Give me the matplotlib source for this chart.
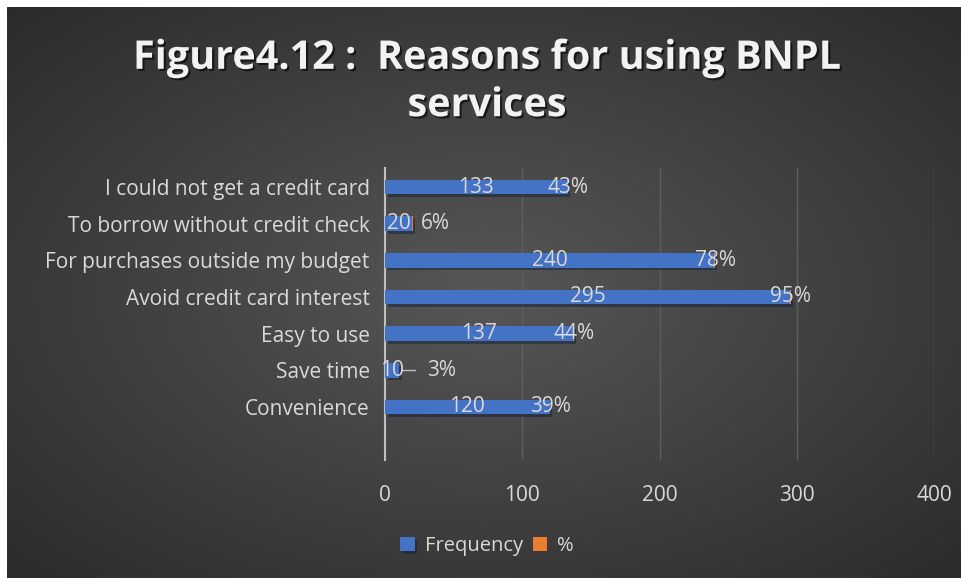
import matplotlib.pyplot as plt
import matplotlib.patheffects as pe
import numpy as np

categories = ["Convenience", "Save time", "Easy to use", "Avoid credit card interest",
              "For purchases outside my budget", "To borrow without credit check",
              "I could not get a credit card"]
freq = [120, 10, 137, 295, 240, 20, 133]
pct = [39, 3, 44, 95, 78, 6, 43]

W, H = 962, 578
fig = plt.figure(figsize=(W / 100, H / 100), dpi=100, facecolor="white")

# dark radial-gradient panel (white strip on left/top like the screenshot)
bg = fig.add_axes([7 / W, 0, 1 - 7 / W, 1 - 7 / H])
yy, xx = np.mgrid[-1:1:300j, -1:1:500j]
r = np.sqrt(xx ** 2 + yy ** 2) / np.sqrt(2)
grad = 0.34 - 0.17 * r
bg.imshow(np.dstack([grad] * 3), aspect="auto", extent=[0, 1, 0, 1])
bg.axis("off")

font = "Open Sans"
txt = "#d9d9d9"
fs = 15

ax = fig.add_axes([385 / W, 1 - 460 / H, (934 - 385) / W, (460 - 168) / H])
ax.patch.set_alpha(0)
y = np.arange(len(categories))
shadow = [pe.SimplePatchShadow(offset=(2, -2), alpha=0.5), pe.Normal()]
b1 = ax.barh(y, freq, height=0.4, color="#4472c4", label="Frequency",
             path_effects=shadow, zorder=3)
b2 = ax.barh(y, [p / 100 for p in pct], left=freq, height=0.4, color="#ed7d31",
             label="%", zorder=3)

for i in range(len(categories)):
    ax.text(freq[i] / 2, y[i], str(freq[i]), ha="center", va="center",
            color=txt, fontsize=fs, family=font, zorder=5)
    if freq[i] < 50:
        lx = freq[i] + 17
        if freq[i] < 15:
            ax.plot([freq[i] + 2.5, freq[i] + 12], [y[i], y[i]], color="#bfbfbf", lw=1, zorder=4)
            lx = freq[i] + 31
        ax.text(lx, y[i], f"{pct[i]}%", ha="center", va="center",
                color=txt, fontsize=fs, family=font, zorder=5)
    else:
        ax.text(freq[i] + 0.5, y[i], f"{pct[i]}%", ha="center", va="center",
                color=txt, fontsize=fs, family=font, zorder=5)

ax.set_xlim(0, 400)
ax.set_ylim(-1.45, 6.52)
ax.set_xticks([0, 100, 200, 300, 400])
ax.set_yticks(y)
ax.set_yticklabels(categories)
ax.tick_params(axis="both", length=0, colors=txt, labelsize=fs)
ax.tick_params(axis="x", pad=18)
ax.tick_params(axis="y", pad=11)
for lab in ax.get_xticklabels() + ax.get_yticklabels():
    lab.set_family(font)
ax.grid(axis="x", color="#5e5e5e", lw=1, zorder=0)
for s in ["top", "right", "bottom"]:
    ax.spines[s].set_visible(False)
ax.spines["left"].set_color("#bfbfbf")
ax.spines["left"].set_linewidth(1.5)

leg = fig.legend(handles=[b1, b2], loc="center", bbox_to_anchor=(487 / W, 1 - 546 / H),
                 ncol=2, frameon=False, handlelength=0.72, handleheight=0.72,
                 handletextpad=0.5, columnspacing=0.5, prop={"family": font, "size": 14.5})
for t in leg.get_texts():
    t.set_color(txt)

title_fx = [pe.withSimplePatchShadow(offset=(1.5, -1.5), shadow_rgbFace="black", alpha=0.6)]
fig.text(487 / W, 1 - 82 / H, "Figure4.12 :  Reasons for using BNPL\nservices",
         ha="center", va="center", color="#f2f2f2", fontsize=28.5, fontweight="bold",
         family=font, linespacing=1.28, path_effects=title_fx)

fig.savefig("out.png", dpi=100, facecolor="white")
